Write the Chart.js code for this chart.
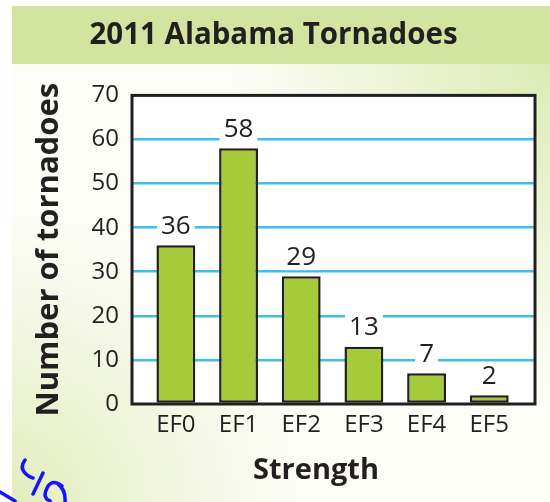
<!DOCTYPE html>
<html>
<head>
<meta charset="utf-8">
<script src="https://cdn.jsdelivr.net/npm/chart.js@4/dist/chart.umd.min.js"></script>
<style>
html,body{margin:0;padding:0;background:#fff;}
#wrap{position:relative;width:550px;height:502px;}
canvas{display:block;}
</style>
</head>
<body>
<div id="wrap"><canvas id="c" width="550" height="502"></canvas></div>
<script>
const chartTitle = "2011 Alabama Tornadoes";
const xAxisTitle = "Strength";
const yAxisTitle = "Number of tornadoes";
const categories = ["EF0", "EF1", "EF2", "EF3", "EF4", "EF5"];
const tornadoes = [36, 58, 29, 13, 7, 2];
const yTicks = [0, 10, 20, 30, 40, 50, 60, 70];

const FONT = "'Open Sans', 'Noto Sans', sans-serif";
const INK = "#231f20";

const bgPlugin = {
  id: 'bg',
  beforeDraw(chart) {
    const ctx = chart.ctx;
    ctx.save();
    ctx.fillStyle = "#fdfdf8";
    ctx.fillRect(12, 6, 538, 496);
    let g = ctx.createRadialGradient(560, 60, 10, 560, 60, 330);
    g.addColorStop(0, "rgba(220,235,180,1)");
    g.addColorStop(1, "rgba(220,235,180,0)");
    ctx.fillStyle = g;
    ctx.fillRect(12, 64, 538, 438);
    g = ctx.createRadialGradient(0, 510, 10, 0, 510, 300);
    g.addColorStop(0, "rgba(226,237,190,1)");
    g.addColorStop(1, "rgba(226,237,190,0)");
    ctx.fillStyle = g;
    ctx.fillRect(12, 64, 538, 438);
    ctx.fillStyle = "#d2e4a0";
    ctx.fillRect(12, 6, 538, 58);
    const a = chart.chartArea;
    ctx.fillStyle = "#ffffff";
    ctx.fillRect(a.left, a.top, a.right - a.left, a.bottom - a.top);
    ctx.restore();
  },
  afterDatasetsDraw(chart) {
    const ctx = chart.ctx;
    const a = chart.chartArea;
    ctx.save();
    ctx.strokeStyle = INK;
    ctx.lineWidth = 3;
    ctx.strokeRect(a.left, a.top, a.right - a.left, a.bottom - a.top);
    const meta = chart.getDatasetMeta(0);
    ctx.font = "26px " + FONT;
    ctx.textAlign = "center";
    ctx.textBaseline = "middle";
    meta.data.forEach((bar, i) => {
      const txt = String(tornadoes[i]);
      const w = ctx.measureText(txt).width + 8;
      const cy = bar.y - 19;
      ctx.fillStyle = "#ffffff";
      ctx.fillRect(bar.x - w / 2, cy - 13, w, 26);
      ctx.fillStyle = INK;
      ctx.fillText(txt, bar.x, cy);
    });
    ctx.font = "bold 29px " + FONT;
    ctx.fillStyle = INK;
    ctx.fillText(xAxisTitle, 316, 471);
    // handwriting scribble (decoration)
    ctx.strokeStyle = "#1414ff";
    ctx.lineWidth = 3.5;
    ctx.lineCap = "round";
    ctx.lineJoin = "round";
    ctx.beginPath();
    ctx.moveTo(0, 492); ctx.lineTo(15, 501);
    ctx.moveTo(25, 460); ctx.quadraticCurveTo(19, 468, 26, 474);
    ctx.quadraticCurveTo(29, 477, 33, 478);
    ctx.moveTo(43, 473); ctx.lineTo(33, 494);
    ctx.moveTo(62, 486); ctx.quadraticCurveTo(52, 478, 47, 488);
    ctx.quadraticCurveTo(42, 498, 50, 501);
    ctx.moveTo(58, 484); ctx.quadraticCurveTo(66, 490, 65, 502);
    ctx.stroke();
    ctx.restore();
  }
};

new Chart(document.getElementById('c'), {
  type: 'bar',
  data: {
    datasets: [{
      data: tornadoes.map((v, i) => ({ x: i, y: v })),
      backgroundColor: "#a6cb3a",
      borderColor: INK,
      borderWidth: 2.5,
      borderSkipped: false,
      barPercentage: 0.62,
      categoryPercentage: 1
    }]
  },
  plugins: [bgPlugin],
  options: {
    responsive: false,
    animation: false,
    devicePixelRatio: 1,
    layout: { padding: { left: 12, right: 15, top: 0, bottom: 0 } },
    plugins: {
      legend: { display: false },
      tooltip: { enabled: false },
      title: {
        display: true,
        text: chartTitle,
        color: INK,
        font: { family: FONT, size: 29.5, weight: 'bold' },
        padding: { top: 18, bottom: 42 }
      }
    },
    scales: {
      x: {
        type: 'linear',
        offset: false,
        min: -0.7,
        max: 5.73,
        afterBuildTicks(scale) { scale.ticks = categories.map((c, i) => ({ value: i })); },
        afterFit(scale) { scale.height = 98; },
        ticks: {
          color: INK,
          font: { family: FONT, size: 24 },
          padding: 7,
          callback: (v) => categories[v]
        },
        grid: { display: false, drawTicks: false },
        border: { display: false }
      },
      y: {
        min: 0,
        max: 70,
        afterBuildTicks(scale) { scale.ticks = yTicks.map(v => ({ value: v })); },
        afterFit(scale) { scale.width = 120; },
        ticks: {
          color: INK,
          font: { family: FONT, size: 24 },
          padding: 13
        },
        grid: {
          drawTicks: false,
          lineWidth: 2.5,
          color: (c) => (c.tick && (c.tick.value === 0 || c.tick.value === 70)) ? 'rgba(0,0,0,0)' : '#3cbfee'
        },
        border: { display: false },
        title: {
          display: true,
          text: yAxisTitle,
          color: INK,
          font: { family: FONT, size: 31, weight: 'bold' },
          padding: { top: 19, bottom: 0 }
        }
      }
    }
  }
});
</script>
</body>
</html>
